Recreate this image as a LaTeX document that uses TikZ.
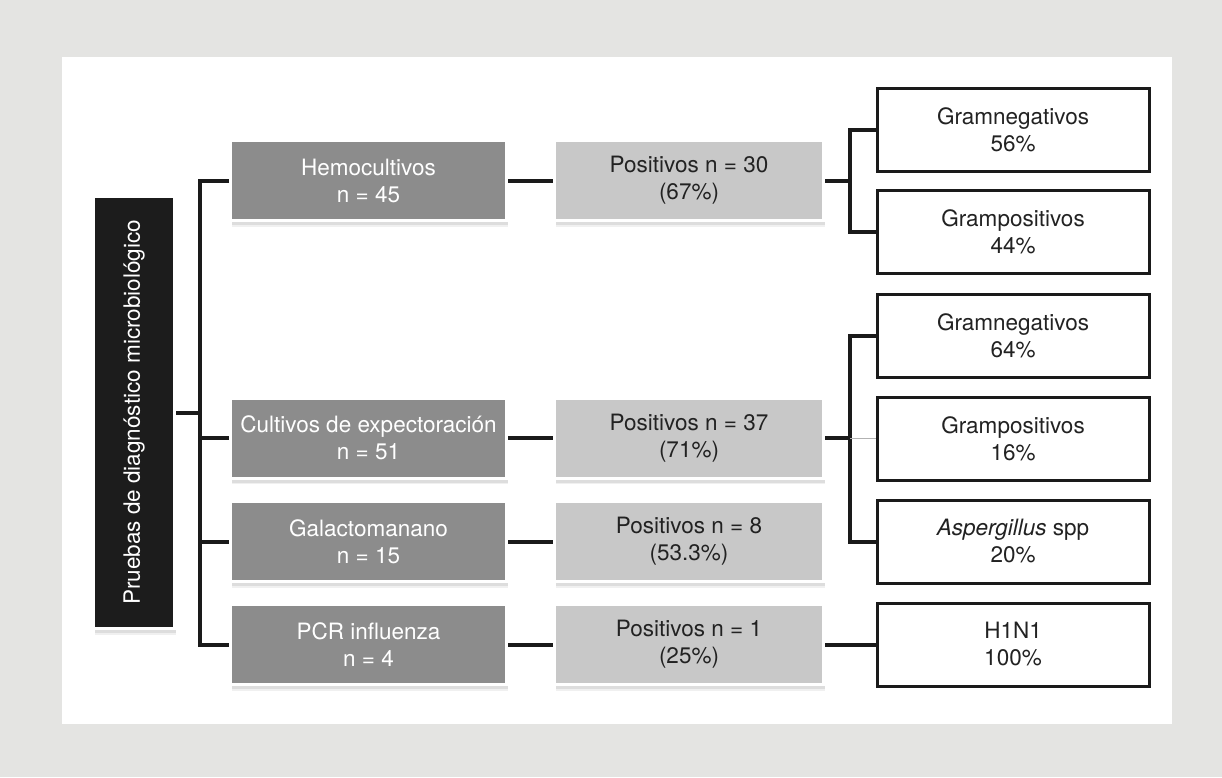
\documentclass[tikz,border=0pt]{standalone}
\usepackage{fontspec}
\setmainfont{TeX Gyre Heros}
\usetikzlibrary{shadows}
\definecolor{bgout}{HTML}{E4E4E2}
\definecolor{lineblk}{HTML}{1A1A1A}
\definecolor{darkbox}{HTML}{8C8C8C}
\definecolor{lightbox}{HTML}{C8C8C8}
\definecolor{rootbox}{HTML}{1C1C1C}
\definecolor{txtdark}{HTML}{222222}
\begin{document}
\begin{tikzpicture}[x=1pt,y=-1pt,
  boxshadow/.style={drop shadow={shadow xshift=1pt,shadow yshift=-6pt,opacity=0.06,fill=black},
                    drop shadow={shadow xshift=1pt,shadow yshift=-4.5pt,opacity=0.08,fill=black}},
  testbox/.style={boxshadow,fill=darkbox,draw=white,line width=3pt,minimum width=276pt,minimum height=80pt,
    inner sep=2pt,align=center,text=white,font=\fontsize{22.5}{27}\selectfont},
  posbox/.style={boxshadow,fill=lightbox,draw=white,line width=3pt,minimum width=269pt,minimum height=80pt,
    inner sep=2pt,align=center,text=txtdark,font=\fontsize{22.5}{27}\selectfont},
  resbox/.style={fill=white,draw=lineblk,line width=3pt,minimum width=272pt,minimum height=83pt,
    inner sep=2pt,align=center,text=txtdark,font=\fontsize{22.5}{27}\selectfont},
  rootnode/.style={boxshadow,fill=rootbox,draw=white,line width=3pt,minimum width=432pt,minimum height=81pt,
    inner sep=2pt,text=white,rotate=90,font=\fontsize{22.5}{27}\selectfont},
  conn/.style={draw=lineblk,line width=4pt},
  thinconn/.style={draw=black!30,line width=1.5pt}]
\useasboundingbox (0,0) rectangle (1222,777);
\fill[bgout] (0,0) rectangle (1222,777);
\fill[white] (62,57) rectangle (1172,724);

% root
\node[rootnode] (root) at (134,412.5) {Pruebas de diagnóstico microbiológico};

% tests
\node[testbox] (hemo) at (368.5,180.5) {Hemocultivos\\n = 45};
\node[testbox] (cult) at (368.5,438) {Cultivos de expectoración\\n = 51};
\node[testbox] (gala) at (368.5,541.5) {Galactomanano\\n = 15};
\node[testbox] (pcr)  at (368.5,644.5) {PCR influenza\\n = 4};

% positives
\node[posbox] (pos1) at (689,180.5) {Positivos n = 30\\(67\%)};
\node[posbox] (pos2) at (689,438) {Positivos n = 37\\(71\%)};
\node[posbox] (pos3) at (689,541.5) {Positivos n = 8\\(53.3\%)};
\node[posbox] (pos4) at (689,644.5) {Positivos n = 1\\(25\%)};

% results
\node[resbox] (r1) at (1013,129.5) {Gramnegativos\\56\%};
\node[resbox] (r2) at (1013,232) {Grampositivos\\44\%};
\node[resbox] (r3) at (1013,335.5) {Gramnegativos\\64\%};
\node[resbox] (r4) at (1013,438.5) {Grampositivos\\16\%};
\node[resbox] (r5) at (1013,541.5) {\textit{Aspergillus} spp\\20\%};
\node[resbox] (r6) at (1013,644.5) {H1N1\\100\%};

\coordinate (tk) at (200,412.5);
\coordinate (bk) at (850,400);

% trunk
\draw[conn] (root.south) -- (tk);
\draw[conn] (hemo.west) -- (hemo.west -| tk) -- (pcr.west -| tk) -- (pcr.west);
\draw[conn] (cult.west -| tk) -- (cult.west);
\draw[conn] (gala.west -| tk) -- (gala.west);

% tests to positives
\draw[conn] (hemo.east) -- (pos1.west);
\draw[conn] (cult.east) -- (pos2.west);
\draw[conn] (gala.east) -- (pos3.west);
\draw[conn] (pcr.east) -- (pos4.west);

% positives to results
\draw[conn] (pos1.east) -- (pos1.east -| bk);
\draw[conn] (r1.west) -- (r1.west -| bk) -- (r2.west -| bk) -- (r2.west);
\draw[conn] (pos2.east) -- (pos2.east -| bk);
\draw[conn] (r3.west) -- (r3.west -| bk) -- (r5.west -| bk) -- (r5.west);
\draw[thinconn] (r4.west -| bk) -- (r4.west);
\draw[conn] (pos4.east) -- (r6.west);
\end{tikzpicture}
\end{document}
